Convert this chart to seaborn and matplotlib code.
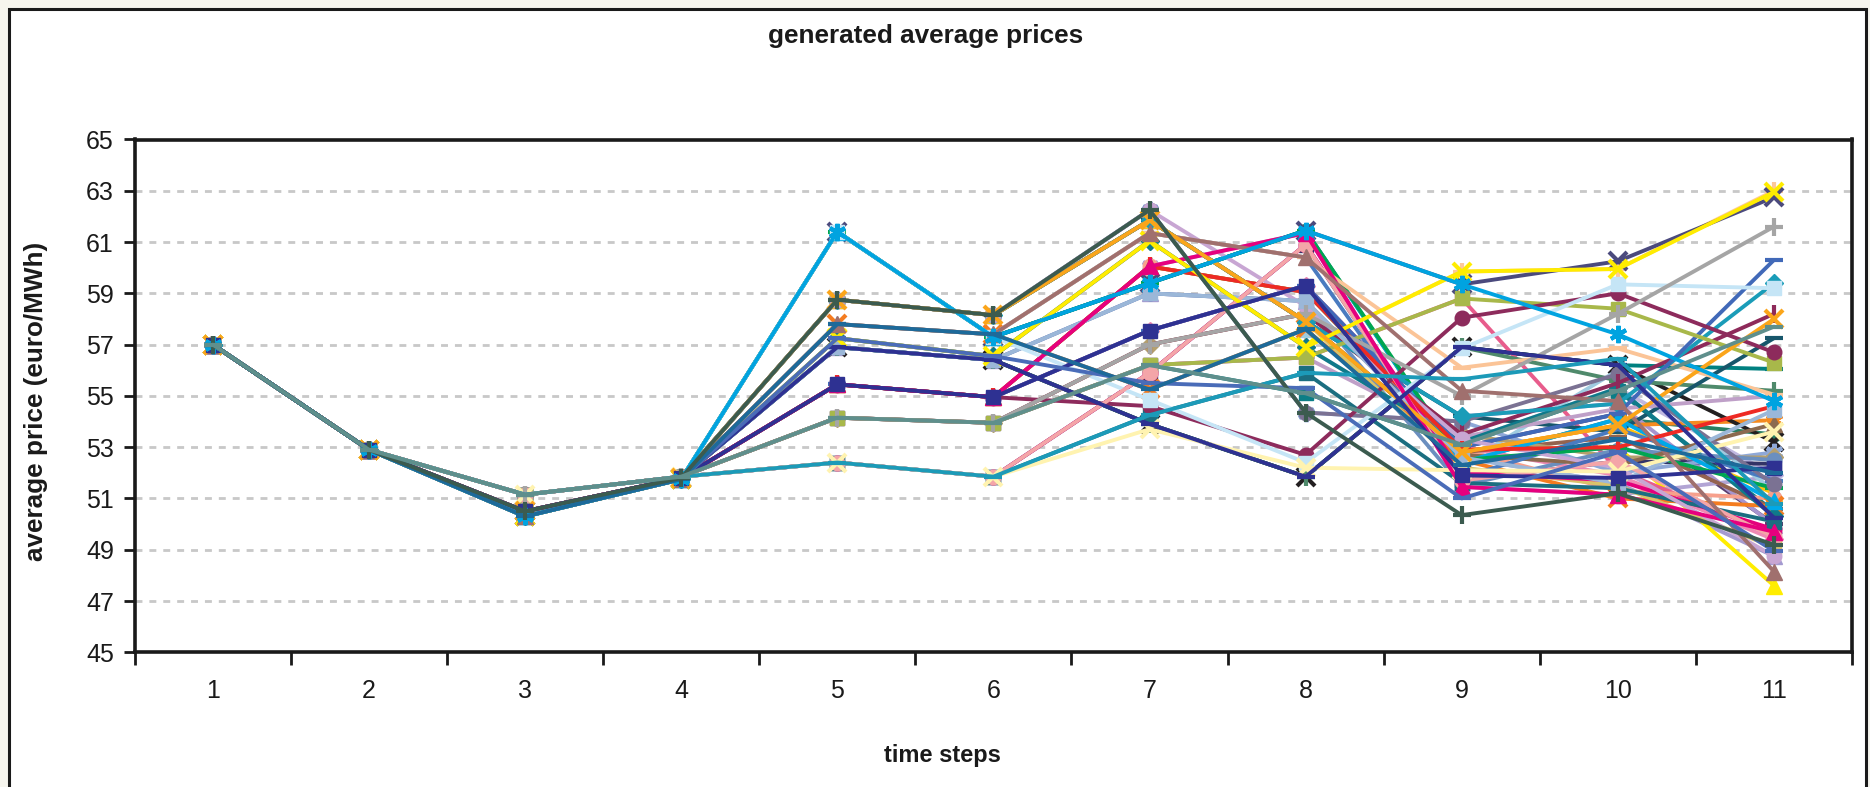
import numpy as np
import pandas as pd
import matplotlib
matplotlib.use("Agg")
import matplotlib.pyplot as plt
from matplotlib.patches import Rectangle
import seaborn as sns

# ---------------- data (scenario tree: node values per time step + parent index) -------------
steps = list(range(1, 12))
step_labels = [str(s) for s in steps]

v1 = [57.0]
v2 = [52.9]
p2 = [0]
v3 = [51.15, 50.5, 50.3]
p3 = [0, 0, 0]
v4 = [51.85, 51.8, 51.75]
p4 = [0, 1, 2]
v5 = [61.4, 58.75, 57.8, 57.25, 56.9, 55.45, 54.15, 52.4]
p5 = [2, 1, 2, 2, 1, 1, 0, 0]
v6 = [57.3, 58.15, 57.4, 56.55, 56.4, 54.95, 53.95, 51.85]
p6 = [0, 1, 2, 3, 4, 5, 6, 7]
v7 = [62.25, 61.85, 61.35, 61.05, 60.05, 59.4, 59.0, 57.55, 57.0, 56.2, 55.9, 55.5,
      55.25, 54.85, 54.6, 54.25, 53.9, 53.7]
p7 = [1, 1, 2, 3, 5, 0, 4, 5, 6, 6, 7, 3, 2, 0, 5, 7, 4, 7]
v8 = [61.45, 61.35, 60.9, 60.4, 59.3, 59.05, 58.7, 58.2, 57.9, 56.9, 56.5, 55.9, 55.3,
      55.1, 54.35, 52.7, 52.4, 52.2, 51.85, 57.6, 58.5]
p8 = [5, 4, 10, 2, 7, 4, 6, 8, 1, 3, 9, 15, 11, 9, 0, 14, 13, 17, 16, 12, 0]
v9 = [59.85, 59.35, 58.8, 58.05, 56.9, 56.85, 56.1, 55.65, 55.2, 55.0, 54.2, 54.0, 53.5,
      53.1, 52.8, 53.0, 52.9, 52.6, 52.1, 51.7, 51.45, 51.0, 50.35, 52.3, 53.3, 51.9,
      52.5, 51.6, 52.4, 52.0, 51.8, 52.7, 53.2, 52.2, 51.5, 53.4, 52.5]
p9 = [9, 0, 10, 15, 18, 16, 3, 11, 3, 7, 8, 14, 7, 13, 8, 4, 5, 6, 17, 2, 1, 12, 14, 19,
      20, 4, 0, 11, 0, 2, 3, 5, 9, 8, 6, 10, 19]
v10 = [60.25, 59.95, 59.35, 59.0, 58.4, 58.2, 57.4, 56.85, 56.45, 56.2, 55.85, 55.5,
       55.2, 54.7, 54.3, 53.85, 53.6, 53.0, 52.45, 52.05, 51.6, 51.15, 51.2, 52.8, 53.3,
       52.2, 51.8, 53.0, 51.4, 54.8, 52.6, 53.4, 51.3, 55.6, 52.0, 51.9, 54.1, 51.7,
       53.7, 52.3, 55.3, 51.5, 52.9, 54.5, 51.0, 56.0, 52.1]
p10 = [1, 0, 5, 3, 2, 9, 1, 6, 7, 4, 11, 12, 13, 10, 15, 14, 10, 16, 19, 18, 17, 20, 22,
       21, 23, 24, 25, 26, 27, 8, 12, 14, 16, 4, 11, 15, 28, 29, 30, 31, 32, 33, 34, 35,
       36, 23, 2]
v11 = [62.95, 63.0, 62.75, 61.6, 60.3, 59.4, 59.2, 58.2, 58.0, 57.7, 57.25, 56.7, 56.3,
       56.05, 55.05, 54.8, 54.6, 54.45, 54.05, 53.6, 53.2, 52.35, 52.0, 51.85, 51.55, 51.2,
       50.8, 50.5, 50.25, 49.95, 49.7, 49.5, 49.2, 48.95, 48.75, 48.15, 47.6, 52.2, 51.4,
       50.1, 52.6, 50.6, 51.0, 55.2, 52.8, 49.4, 48.75, 50.9, 49.8, 51.7, 53.9, 50.3,
       49.1, 52.5, 55.0, 50.7, 51.3, 49.6, 53.5, 51.9, 50.0]
p11 = [1, 1, 0, 5, 14, 13, 2, 11, 15, 12, 16, 3, 4, 9, 7, 6, 17, 20, 15, 19, 9, 18, 24,
       21, 10, 15, 8, 12, 9, 13, 21, 18, 22, 23, 25, 29, 17, 26, 27, 28, 30, 31, 32, 33,
       34, 35, 20, 36, 37, 38, 39, 40, 41, 42, 43, 44, 45, 46, 36, 40, 14]

node_values = [v1, v2, v3, v4, v5, v6, v7, v8, v9, v10, v11]
node_parents = [None, p2, p3, p4, p5, p6, p7, p8, p9, p10, p11]

series_colors = [
    "#ffec00", "#fcc89b", "#4b4a7d", "#a5a5a5", "#4169b8", "#1a9cb8", "#c5e5f6", "#8e2a5a",
    "#fba51a", "#5f8f8c", "#17566b", "#8d2b5c", "#a8b84a", "#008080", "#fbc497", "#00a3e0",
    "#ee2a24", "#9bb7d8", "#f58a1f", "#fff3b0", "#231f20", "#333366", "#1d6a9a", "#b2a4d4",
    "#7b7293", "#ffc20e", "#1c9ab8", "#0b7e86", "#2e3192", "#a695cf", "#e6007e", "#f4a5a8",
    "#3b5b4f", "#4a6cb8", "#c8a6d3", "#a0706e", "#ffed00", "#2e3192", "#00a651", "#1b6e80",
    "#b5a06e", "#94634f", "#f7a08c", "#4f8a6b", "#8ea8d8", "#ee8ab4", "#a49ad0", "#00a9e8",
    "#e4007c", "#4a7bc0", "#8c6a4f", "#0f7a8a", "#d9c36a", "#6b8fbf", "#bfa0c8", "#f47c20",
    "#9fcbe0", "#e85c8c", "#2a7f62", "#c0b8e0", "#5a3d6e",
]
series_markers = [
    "x", "+", "x", "+", "_", "D", "s", "|", "x", "_", "_", "o", "s", "_", "_", (6, 2, 0),
    "|", "s", (6, 2, 0), "x", "x", "s", "_", (6, 2, 0), "o", "^", "_", "s", "_", "^", "^", "o",
    "+", "_", "o", "^", "^", "s", "_", "s", "D", "_", "o", "+", (6, 2, 0), "D", "^", "^",
    "o", "_", "^", "D", "s", "o", "_", "x", "^", "s", "o", "D", "_",
]
# series whose colour shows on shared branches (most prominent first)
branch_priority = [9, 32, 22, 15, 26, 8, 35, 33, 0, 37, 30, 28, 23, 12, 2, 3, 20, 19, 16, 31]

n_leaves = len(v11)


def leaf_path(leaf):
    idx = leaf
    out = []
    for k in range(len(node_values) - 1, -1, -1):
        out.append((k, idx, node_values[k][idx]))
        if k > 0:
            idx = node_parents[k][idx]
    return out[::-1]


paths = [leaf_path(j) for j in range(n_leaves)]

rows = []
for j, pth in enumerate(paths):
    for s, (_, _, val) in zip(steps, pth):
        rows.append({"series": j, "step": s, "price": val})
df = pd.DataFrame(rows)

# drawing order: the series drawn last shows on top of shared tree branches
rank = {j: (branch_priority.index(j) if j in branch_priority else len(branch_priority) + j)
        for j in range(n_leaves)}
rep = {}
for j, pth in enumerate(paths):
    for (k, idx, _) in pth:
        if (k, idx) not in rep or rank[j] < rank[rep[(k, idx)]]:
            rep[(k, idx)] = j
top_depth = {}
for j, pth in enumerate(paths):
    top_depth[j] = min(k for (k, idx, _) in pth if rep[(k, idx)] == j)
order = sorted(range(n_leaves), key=lambda j: (-top_depth[j], -rank[j]))

# ---------------- figure -------------
sns.set_theme(style="white")
plt.rcParams["font.family"] = ["Liberation Sans", "DejaVu Sans"]

W, H = 1870, 787
fig = plt.figure(figsize=(W / 100, H / 100), dpi=100, facecolor="#f6f5ee")
frame = Rectangle((9 / W, -0.05), (1866 - 9) / W, 1 - 9 / H + 0.05,
                  transform=fig.transFigure, facecolor="white",
                  edgecolor="#1a1a1a", lw=2.2, zorder=-10)
fig.patches.append(frame)

ax = fig.add_axes([134.8 / W, 1 - 652.3 / H, (1852 - 134.8) / W, (652.3 - 139.5) / H])
ax.set_zorder(5)
ax.set_facecolor("white")

for j in order:
    sub = df[df["series"] == j]
    m = series_markers[j]
    line_art = m in ("x", "+", "|", "_") or isinstance(m, tuple)
    if line_art:
        ms, mew = 12.5, 3.0
    elif m == "^":
        ms, mew = 11.5, 1.0
    elif m == "D":
        ms, mew = 9.5, 1.0
    else:
        ms, mew = 10.5, 1.0
    sns.lineplot(data=sub, x="step", y="price", ax=ax, color=series_colors[j],
                 linewidth=2.8, marker=m, markersize=ms, markeredgewidth=mew,
                 markeredgecolor=series_colors[j], markerfacecolor=series_colors[j],
                 errorbar=None, legend=False, sort=True)

ax.set_xlim(0.5, 11.5)
ax.set_ylim(45, 65)
ax.set_yticks(np.arange(45, 66, 2))
ax.set_xticks(steps)
ax.set_xticklabels(step_labels)
ax.set_xticks(np.arange(0.5, 12, 1), minor=True)
ax.tick_params(axis="x", which="major", length=0, pad=19, labelsize=18, colors="#1a1a1a")
ax.tick_params(axis="x", which="minor", length=9, width=2, direction="out", color="#1a1a1a",
               bottom=True)
ax.tick_params(axis="y", length=8, width=2, direction="out", pad=7, labelsize=18,
               colors="#1a1a1a", left=True)
ax.yaxis.grid(True, color="#c8c8c8", linestyle=(0, (2.5, 2.5)), linewidth=2)
ax.xaxis.grid(False)
ax.set_axisbelow(True)
for sp in ax.spines.values():
    sp.set_visible(True)
    sp.set_color("#1a1a1a")
    sp.set_linewidth(2.6)

ax.set_xlabel("time steps", fontsize=17, fontweight="bold", color="#1a1a1a")
ax.set_ylabel("average price (euro/MWh)", fontsize=18.8, fontweight="bold", color="#1a1a1a")
ax.xaxis.set_label_coords((942 - 134.8) / (1852 - 134.8), -(744 - 652.3) / (652.3 - 139.5))
ax.yaxis.set_label_coords(-(86.8) / (1852 - 134.8), 0.49)

fig.text(926 / W, 1 - 36 / H, "generated average prices", ha="center", va="center",
         fontsize=18.8, fontweight="bold", color="#1a1a1a")

fig.savefig("out.png", dpi=100, facecolor=fig.get_facecolor())
